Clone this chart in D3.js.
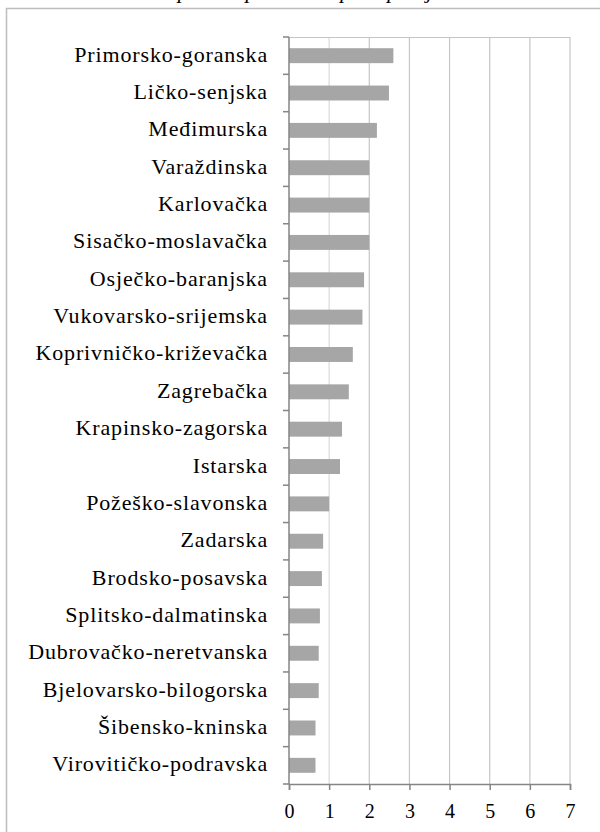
<!DOCTYPE html>
<html>
<head>
<meta charset="utf-8">
<script src="https://cdn.jsdelivr.net/npm/d3@7"></script>
<style>
  html, body { margin: 0; padding: 0; background: #fff; }
  svg { display: block; }
</style>
</head>
<body>
<svg id="chart" width="600" height="832"></svg>
<script>
// Counties, top to bottom
const counties = [
  "Primorsko-goranska", "Ličko-senjska", "Međimurska", "Varaždinska",
  "Karlovačka", "Sisačko-moslavačka", "Osječko-baranjska", "Vukovarsko-srijemska",
  "Koprivničko-križevačka", "Zagrebačka", "Krapinsko-zagorska", "Istarska",
  "Požeško-slavonska", "Zadarska", "Brodsko-posavska", "Splitsko-dalmatinska",
  "Dubrovačko-neretvanska", "Bjelovarsko-bilogorska", "Šibensko-kninska", "Virovitičko-podravska"
];
const values = [
  2.60, 2.49, 2.19, 2.00,
  2.00, 2.00, 1.87, 1.83,
  1.59, 1.49, 1.32, 1.27,
  1.00, 0.85, 0.82, 0.77,
  0.74, 0.74, 0.66, 0.66
];
const xTicks = [0, 1, 2, 3, 4, 5, 6, 7];
const chartTitle = "Stopa nezaposlenosti po županijama";

const svg = d3.select("#chart");
const plot = { left: 289, right: 570, top: 37, bottom: 784 };
const serif = "Liberation Serif, Times New Roman, serif";

// Chart frame
svg.append("rect")
  .attr("x", 6.5).attr("y", 8.5)
  .attr("width", 620).attr("height", 860)
  .attr("fill", "none").attr("stroke", "#bdbdbd").attr("stroke-width", 1.5);

// Title, running above the top edge of the frame
svg.append("text")
  .attr("x", 310).attr("y", -2)
  .attr("text-anchor", "middle")
  .attr("font-family", serif)
  .attr("font-style", "italic")
  .attr("font-size", 22)
  .attr("fill", "#000")
  .text(chartTitle);

const x = d3.scaleLinear().domain([0, 7]).range([plot.left, plot.right]);
const y = d3.scaleBand().domain(counties).range([plot.top, plot.bottom]).paddingInner(0.6).paddingOuter(0.3);

// Vertical gridlines
svg.append("g")
  .selectAll("line")
  .data(xTicks.filter(d => d > 0))
  .join("line")
  .attr("x1", d => x(d)).attr("x2", d => x(d))
  .attr("y1", plot.top).attr("y2", plot.bottom)
  .attr("stroke", d => d === 1 ? "#dadada" : "#c6c6c6")
  .attr("stroke-width", 1.2);

// Top border of plot area
svg.append("line")
  .attr("x1", plot.left).attr("x2", plot.right)
  .attr("y1", plot.top + 0.5).attr("y2", plot.top + 0.5)
  .attr("stroke", "#c6c6c6").attr("stroke-width", 1);

// Bars
svg.append("g")
  .selectAll("rect")
  .data(counties.map((c, i) => ({ c, v: values[i] })))
  .join("rect")
  .attr("x", x(0))
  .attr("y", d => y(d.c))
  .attr("width", d => x(d.v) - x(0))
  .attr("height", y.bandwidth())
  .attr("fill", "#a6a6a6");

// Left axis with category boundary ticks
const step = (plot.bottom - plot.top) / counties.length;
const yAxis = svg.append("g");
yAxis.append("line")
  .attr("x1", plot.left).attr("x2", plot.left)
  .attr("y1", plot.top).attr("y2", plot.bottom)
  .attr("stroke", "#858585").attr("stroke-width", 1.5);
yAxis.selectAll("line.tick")
  .data(d3.range(counties.length + 1))
  .join("line")
  .attr("class", "tick")
  .attr("x1", plot.left - 6).attr("x2", plot.left)
  .attr("y1", i => plot.top + i * step).attr("y2", i => plot.top + i * step)
  .attr("stroke", "#858585").attr("stroke-width", 1.5);

// Category labels
svg.append("g")
  .selectAll("text")
  .data(counties)
  .join("text")
  .attr("x", 268)
  .attr("y", d => y(d) + y.bandwidth() / 2 + 6)
  .attr("text-anchor", "end")
  .attr("font-family", serif)
  .attr("font-size", 22)
  .attr("letter-spacing", "0.85px")
  .attr("fill", "#000")
  .text(d => d);

// Bottom axis
const xAxis = d3.axisBottom(x).tickValues(xTicks).tickSize(6).tickPadding(14).tickFormat(d3.format("d"));
const gx = svg.append("g")
  .attr("transform", `translate(0,${plot.bottom})`)
  .call(xAxis);
gx.select(".domain").attr("stroke", "#858585").attr("stroke-width", 1.5);
gx.selectAll(".tick line").attr("stroke", "#858585").attr("stroke-width", 1.5);
gx.selectAll(".tick text")
  .attr("font-family", serif)
  .attr("font-size", 20)
  .attr("fill", "#000");
</script>
</body>
</html>
